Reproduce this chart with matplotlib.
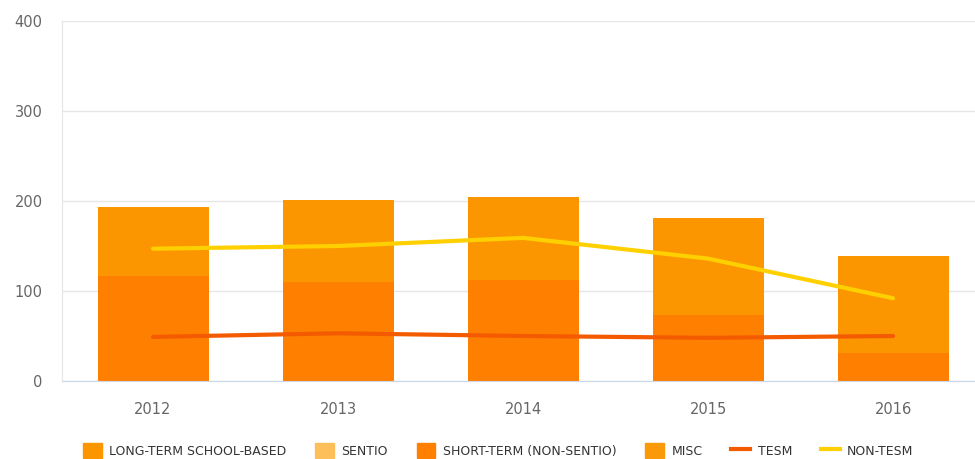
import numpy as np
import matplotlib.pyplot as plt
from matplotlib.patches import Patch
from matplotlib.lines import Line2D

years = ['2012', '2013', '2014', '2015', '2016']
long_term = [76, 91, 93, 108, 108]
sentio = [0, 0, 0, 0, 0]
short_term = [117, 110, 112, 73, 31]
misc = [0, 0, 0, 0, 0]
tesm = [49, 53, 50, 48, 50]
non_tesm = [147, 150, 159, 136, 92]

c_long = '#fb9600'
c_sentio = '#fdbf5a'
c_short = '#ff8000'
c_misc = '#fb9a08'
c_tesm = '#f45b00'
c_non = '#ffd000'

plt.rcParams['font.family'] = ['DejaVu Sans']

fig = plt.figure(figsize=(9.75, 4.59), dpi=100)
ax = fig.add_axes([62 / 975, 78 / 459, 1 - 62 / 975, 360 / 459])

x = np.arange(len(years))
w = 0.6
bottom = np.zeros(len(years))
for vals, col in [(misc, c_misc), (short_term, c_short), (sentio, c_sentio), (long_term, c_long)]:
    ax.bar(x, vals, w, bottom=bottom, color=col, zorder=2)
    bottom += np.array(vals)

ax.plot(x, tesm, color=c_tesm, lw=3, zorder=3, solid_capstyle='round')
ax.plot(x, non_tesm, color=c_non, lw=3, zorder=3, solid_capstyle='round')

ax.set_xlim(-0.492, 4.443)
ax.set_ylim(0, 400)
ax.set_yticks([0, 100, 200, 300, 400])
ax.set_xticks(x)
ax.set_xticklabels(years)
ax.grid(axis='y', color='#e6e6e6', lw=1, zorder=0)
ax.tick_params(length=0, colors='#666666', labelsize=10.5)
ax.tick_params(axis='x', pad=15)
ax.tick_params(axis='y', pad=14)
for s in ['top', 'right']:
    ax.spines[s].set_visible(False)
ax.spines['left'].set_color('#e6e6e6')
ax.spines['bottom'].set_color('#ccd6eb')

handles = [
    Patch(color=c_long, label='LONG-TERM SCHOOL-BASED'),
    Patch(color=c_sentio, label='SENTIO'),
    Patch(color=c_short, label='SHORT-TERM (NON-SENTIO)'),
    Patch(color=c_misc, label='MISC'),
    Line2D([], [], color=c_tesm, lw=3, label='TESM'),
    Line2D([], [], color=c_non, lw=3, label='NON-TESM'),
]
fig.legend(handles=handles, loc='center', bbox_to_anchor=(0.511, 0.018), ncol=6,
           frameon=False, fontsize=9, labelcolor='#333333',
           handlelength=1.5, handleheight=1.5, handletextpad=0.6, columnspacing=2.3)

fig.savefig('out.png', dpi=100)
